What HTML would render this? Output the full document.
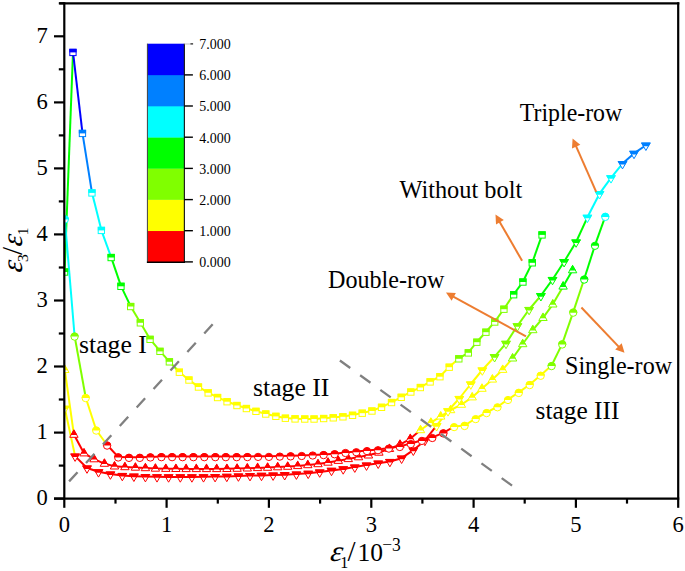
<!DOCTYPE html>
<html><head><meta charset="utf-8"><title>chart</title>
<style>
html,body{margin:0;padding:0;background:#fff;}
svg{display:block;}
text{font-family:"Liberation Serif",serif;fill:#000;}
</style></head><body>
<svg width="685" height="571" viewBox="0 0 685 571">
<rect width="685" height="571" fill="#fff"/>
<defs><clipPath id="pc"><rect x="64.3" y="3.3" width="613.9000000000001" height="495.3"/></clipPath></defs>
<!-- data lines -->
<g clip-path="url(#pc)">
<g stroke-width="2.0" stroke-linecap="butt" fill="none">
<line x1="64.6" y1="271.8" x2="73.0" y2="52.2" stroke="#00ff00"/>
<line x1="73.0" y1="52.2" x2="82.5" y2="133.3" stroke="#0000ff"/>
<line x1="82.5" y1="133.3" x2="92.0" y2="192.8" stroke="#0080ff"/>
<line x1="92.0" y1="192.8" x2="101.4" y2="230.3" stroke="#00ffff"/>
<line x1="101.4" y1="230.3" x2="111.2" y2="257.4" stroke="#00ffff"/>
<line x1="111.2" y1="257.4" x2="121.0" y2="286.1" stroke="#00ff00"/>
<line x1="121.0" y1="286.1" x2="130.7" y2="306.4" stroke="#00ff00"/>
<line x1="130.7" y1="306.4" x2="140.3" y2="322.6" stroke="#80ff00"/>
<line x1="140.3" y1="322.6" x2="150.1" y2="339.2" stroke="#80ff00"/>
<line x1="150.1" y1="339.2" x2="160.0" y2="351.2" stroke="#80ff00"/>
<line x1="160.0" y1="351.2" x2="169.4" y2="361.6" stroke="#80ff00"/>
<line x1="169.4" y1="361.6" x2="179.3" y2="372.0" stroke="#80ff00"/>
<line x1="179.3" y1="372.0" x2="188.9" y2="379.9" stroke="#ffff00"/>
<line x1="188.9" y1="379.9" x2="198.5" y2="386.9" stroke="#ffff00"/>
<line x1="198.5" y1="386.9" x2="208.2" y2="392.7" stroke="#ffff00"/>
<line x1="208.2" y1="392.7" x2="217.6" y2="397.4" stroke="#ffff00"/>
<line x1="217.6" y1="397.4" x2="227.1" y2="401.5" stroke="#ffff00"/>
<line x1="227.1" y1="401.5" x2="236.9" y2="405.3" stroke="#ffff00"/>
<line x1="236.9" y1="405.3" x2="246.4" y2="408.3" stroke="#ffff00"/>
<line x1="246.4" y1="408.3" x2="256.0" y2="411.2" stroke="#ffff00"/>
<line x1="256.0" y1="411.2" x2="265.7" y2="413.8" stroke="#ffff00"/>
<line x1="265.7" y1="413.8" x2="275.8" y2="416.2" stroke="#ffff00"/>
<line x1="275.8" y1="416.2" x2="285.4" y2="418.0" stroke="#ffff00"/>
<line x1="285.4" y1="418.0" x2="295.0" y2="418.7" stroke="#ffff00"/>
<line x1="295.0" y1="418.7" x2="304.7" y2="418.9" stroke="#ffff00"/>
<line x1="304.7" y1="418.9" x2="314.0" y2="418.9" stroke="#ffff00"/>
<line x1="314.0" y1="418.9" x2="323.6" y2="418.3" stroke="#ffff00"/>
<line x1="323.6" y1="418.3" x2="333.2" y2="417.6" stroke="#ffff00"/>
<line x1="333.2" y1="417.6" x2="342.9" y2="416.6" stroke="#ffff00"/>
<line x1="342.9" y1="416.6" x2="352.5" y2="415.1" stroke="#ffff00"/>
<line x1="352.5" y1="415.1" x2="362.2" y2="413.0" stroke="#ffff00"/>
<line x1="362.2" y1="413.0" x2="371.9" y2="410.8" stroke="#ffff00"/>
<line x1="371.9" y1="410.8" x2="381.5" y2="407.1" stroke="#ffff00"/>
<line x1="381.5" y1="407.1" x2="391.5" y2="402.3" stroke="#ffff00"/>
<line x1="391.5" y1="402.3" x2="401.2" y2="397.1" stroke="#ffff00"/>
<line x1="401.2" y1="397.1" x2="410.8" y2="391.8" stroke="#ffff00"/>
<line x1="410.8" y1="391.8" x2="420.4" y2="387.3" stroke="#ffff00"/>
<line x1="420.4" y1="387.3" x2="430.1" y2="381.7" stroke="#ffff00"/>
<line x1="430.1" y1="381.7" x2="439.9" y2="376.5" stroke="#ffff00"/>
<line x1="439.9" y1="376.5" x2="449.2" y2="367.0" stroke="#ffff00"/>
<line x1="449.2" y1="367.0" x2="458.8" y2="358.6" stroke="#ffff00"/>
<line x1="458.8" y1="358.6" x2="468.3" y2="352.7" stroke="#80ff00"/>
<line x1="468.3" y1="352.7" x2="476.8" y2="342.0" stroke="#80ff00"/>
<line x1="476.8" y1="342.0" x2="485.9" y2="332.0" stroke="#80ff00"/>
<line x1="485.9" y1="332.0" x2="494.7" y2="321.9" stroke="#80ff00"/>
<line x1="494.7" y1="321.9" x2="503.9" y2="309.0" stroke="#80ff00"/>
<line x1="503.9" y1="309.0" x2="513.6" y2="294.5" stroke="#80ff00"/>
<line x1="513.6" y1="294.5" x2="522.9" y2="281.8" stroke="#00ff00"/>
<line x1="522.9" y1="281.8" x2="532.3" y2="262.6" stroke="#00ff00"/>
<line x1="532.3" y1="262.6" x2="542.0" y2="234.8" stroke="#00ff00"/>
<line x1="64.8" y1="218.9" x2="74.6" y2="336.0" stroke="#00ffff"/>
<line x1="74.6" y1="336.0" x2="85.7" y2="397.5" stroke="#80ff00"/>
<line x1="85.7" y1="397.5" x2="96.2" y2="430.0" stroke="#ffff00"/>
<line x1="96.2" y1="430.0" x2="107.1" y2="445.0" stroke="#ffff00"/>
<line x1="107.1" y1="445.0" x2="118.2" y2="456.9" stroke="#ff0000"/>
<line x1="118.2" y1="456.9" x2="129.0" y2="457.3" stroke="#ff0000"/>
<line x1="129.0" y1="457.3" x2="139.8" y2="457.3" stroke="#ff0000"/>
<line x1="139.8" y1="457.3" x2="150.4" y2="456.9" stroke="#ff0000"/>
<line x1="150.4" y1="456.9" x2="161.4" y2="456.6" stroke="#ff0000"/>
<line x1="161.4" y1="456.6" x2="172.1" y2="456.6" stroke="#ff0000"/>
<line x1="172.1" y1="456.6" x2="182.6" y2="456.6" stroke="#ff0000"/>
<line x1="182.6" y1="456.6" x2="193.4" y2="456.6" stroke="#ff0000"/>
<line x1="193.4" y1="456.6" x2="204.3" y2="456.6" stroke="#ff0000"/>
<line x1="204.3" y1="456.6" x2="215.3" y2="456.6" stroke="#ff0000"/>
<line x1="215.3" y1="456.6" x2="225.8" y2="456.6" stroke="#ff0000"/>
<line x1="225.8" y1="456.6" x2="236.7" y2="456.6" stroke="#ff0000"/>
<line x1="236.7" y1="456.6" x2="247.4" y2="456.5" stroke="#ff0000"/>
<line x1="247.4" y1="456.5" x2="258.1" y2="456.3" stroke="#ff0000"/>
<line x1="258.1" y1="456.3" x2="268.9" y2="456.3" stroke="#ff0000"/>
<line x1="268.9" y1="456.3" x2="279.8" y2="456.0" stroke="#ff0000"/>
<line x1="279.8" y1="456.0" x2="290.6" y2="455.8" stroke="#ff0000"/>
<line x1="290.6" y1="455.8" x2="301.7" y2="455.4" stroke="#ff0000"/>
<line x1="301.7" y1="455.4" x2="312.7" y2="454.9" stroke="#ff0000"/>
<line x1="312.7" y1="454.9" x2="323.6" y2="454.5" stroke="#ff0000"/>
<line x1="323.6" y1="454.5" x2="334.6" y2="453.7" stroke="#ff0000"/>
<line x1="334.6" y1="453.7" x2="345.5" y2="452.4" stroke="#ff0000"/>
<line x1="345.5" y1="452.4" x2="356.3" y2="451.6" stroke="#ff0000"/>
<line x1="356.3" y1="451.6" x2="367.0" y2="450.5" stroke="#ff0000"/>
<line x1="367.0" y1="450.5" x2="378.0" y2="449.6" stroke="#ff0000"/>
<line x1="378.0" y1="449.6" x2="388.9" y2="448.0" stroke="#ff0000"/>
<line x1="388.9" y1="448.0" x2="399.8" y2="446.4" stroke="#ff0000"/>
<line x1="399.8" y1="446.4" x2="410.8" y2="443.5" stroke="#ff0000"/>
<line x1="410.8" y1="443.5" x2="421.9" y2="440.3" stroke="#ff0000"/>
<line x1="421.9" y1="440.3" x2="432.3" y2="437.4" stroke="#ff0000"/>
<line x1="432.3" y1="437.4" x2="443.4" y2="432.9" stroke="#ff0000"/>
<line x1="443.4" y1="432.9" x2="454.1" y2="426.5" stroke="#ff0000"/>
<line x1="454.1" y1="426.5" x2="464.6" y2="425.4" stroke="#ffff00"/>
<line x1="464.6" y1="425.4" x2="475.7" y2="418.5" stroke="#ffff00"/>
<line x1="475.7" y1="418.5" x2="486.6" y2="412.5" stroke="#ffff00"/>
<line x1="486.6" y1="412.5" x2="497.5" y2="406.7" stroke="#ffff00"/>
<line x1="497.5" y1="406.7" x2="508.0" y2="399.4" stroke="#ffff00"/>
<line x1="508.0" y1="399.4" x2="518.8" y2="392.4" stroke="#ffff00"/>
<line x1="518.8" y1="392.4" x2="529.7" y2="384.5" stroke="#ffff00"/>
<line x1="529.7" y1="384.5" x2="540.7" y2="375.2" stroke="#ffff00"/>
<line x1="540.7" y1="375.2" x2="551.6" y2="365.5" stroke="#ffff00"/>
<line x1="551.6" y1="365.5" x2="562.2" y2="343.9" stroke="#80ff00"/>
<line x1="562.2" y1="343.9" x2="573.2" y2="312.1" stroke="#80ff00"/>
<line x1="573.2" y1="312.1" x2="584.2" y2="279.0" stroke="#80ff00"/>
<line x1="584.2" y1="279.0" x2="595.0" y2="245.2" stroke="#00ff00"/>
<line x1="595.0" y1="245.2" x2="605.3" y2="216.3" stroke="#00ff00"/>
<line x1="64.8" y1="369.8" x2="73.9" y2="434.6" stroke="#ffff00"/>
<line x1="73.9" y1="434.6" x2="84.0" y2="453.2" stroke="#ff0000"/>
<line x1="84.0" y1="453.2" x2="94.0" y2="459.1" stroke="#ff0000"/>
<line x1="94.0" y1="459.1" x2="104.4" y2="463.6" stroke="#ff0000"/>
<line x1="104.4" y1="463.6" x2="114.5" y2="466.3" stroke="#ff0000"/>
<line x1="114.5" y1="466.3" x2="124.9" y2="467.0" stroke="#ff0000"/>
<line x1="124.9" y1="467.0" x2="135.4" y2="467.5" stroke="#ff0000"/>
<line x1="135.4" y1="467.5" x2="145.4" y2="468.0" stroke="#ff0000"/>
<line x1="145.4" y1="468.0" x2="155.4" y2="468.5" stroke="#ff0000"/>
<line x1="155.4" y1="468.5" x2="165.8" y2="468.7" stroke="#ff0000"/>
<line x1="165.8" y1="468.7" x2="175.9" y2="468.8" stroke="#ff0000"/>
<line x1="175.9" y1="468.8" x2="186.1" y2="468.9" stroke="#ff0000"/>
<line x1="186.1" y1="468.9" x2="196.3" y2="468.9" stroke="#ff0000"/>
<line x1="196.3" y1="468.9" x2="206.5" y2="468.9" stroke="#ff0000"/>
<line x1="206.5" y1="468.9" x2="216.7" y2="468.9" stroke="#ff0000"/>
<line x1="216.7" y1="468.9" x2="226.9" y2="468.8" stroke="#ff0000"/>
<line x1="226.9" y1="468.8" x2="237.1" y2="468.6" stroke="#ff0000"/>
<line x1="237.1" y1="468.6" x2="247.3" y2="468.3" stroke="#ff0000"/>
<line x1="247.3" y1="468.3" x2="257.6" y2="467.9" stroke="#ff0000"/>
<line x1="257.6" y1="467.9" x2="267.6" y2="467.6" stroke="#ff0000"/>
<line x1="267.6" y1="467.6" x2="277.7" y2="467.1" stroke="#ff0000"/>
<line x1="277.7" y1="467.1" x2="287.7" y2="466.6" stroke="#ff0000"/>
<line x1="287.7" y1="466.6" x2="297.7" y2="465.9" stroke="#ff0000"/>
<line x1="297.7" y1="465.9" x2="307.8" y2="465.0" stroke="#ff0000"/>
<line x1="307.8" y1="465.0" x2="318.0" y2="464.0" stroke="#ff0000"/>
<line x1="318.0" y1="464.0" x2="328.0" y2="462.5" stroke="#ff0000"/>
<line x1="328.0" y1="462.5" x2="338.3" y2="460.7" stroke="#ff0000"/>
<line x1="338.3" y1="460.7" x2="348.3" y2="458.9" stroke="#ff0000"/>
<line x1="348.3" y1="458.9" x2="358.5" y2="457.1" stroke="#ff0000"/>
<line x1="358.5" y1="457.1" x2="368.5" y2="455.3" stroke="#ff0000"/>
<line x1="368.5" y1="455.3" x2="378.9" y2="452.5" stroke="#ff0000"/>
<line x1="378.9" y1="452.5" x2="389.5" y2="448.8" stroke="#ff0000"/>
<line x1="389.5" y1="448.8" x2="400.0" y2="444.6" stroke="#ff0000"/>
<line x1="400.0" y1="444.6" x2="410.3" y2="438.8" stroke="#ff0000"/>
<line x1="410.3" y1="438.8" x2="420.5" y2="430.0" stroke="#ff0000"/>
<line x1="420.5" y1="430.0" x2="430.9" y2="422.6" stroke="#ffff00"/>
<line x1="430.9" y1="422.6" x2="440.7" y2="416.4" stroke="#ffff00"/>
<line x1="440.7" y1="416.4" x2="450.6" y2="410.0" stroke="#ffff00"/>
<line x1="450.6" y1="410.0" x2="461.4" y2="404.6" stroke="#ffff00"/>
<line x1="461.4" y1="404.6" x2="472.2" y2="397.2" stroke="#ffff00"/>
<line x1="472.2" y1="397.2" x2="482.0" y2="388.6" stroke="#ffff00"/>
<line x1="482.0" y1="388.6" x2="492.4" y2="379.4" stroke="#ffff00"/>
<line x1="492.4" y1="379.4" x2="502.7" y2="369.7" stroke="#ffff00"/>
<line x1="502.7" y1="369.7" x2="512.6" y2="358.3" stroke="#ffff00"/>
<line x1="512.6" y1="358.3" x2="522.7" y2="344.0" stroke="#80ff00"/>
<line x1="522.7" y1="344.0" x2="532.8" y2="330.0" stroke="#80ff00"/>
<line x1="532.8" y1="330.0" x2="543.0" y2="317.8" stroke="#80ff00"/>
<line x1="543.0" y1="317.8" x2="552.8" y2="304.3" stroke="#80ff00"/>
<line x1="552.8" y1="304.3" x2="563.1" y2="286.4" stroke="#80ff00"/>
<line x1="563.1" y1="286.4" x2="572.6" y2="270.1" stroke="#00ff00"/>
<line x1="64.8" y1="408.3" x2="75.1" y2="456.1" stroke="#ffff00"/>
<line x1="75.1" y1="456.1" x2="87.0" y2="468.0" stroke="#ff0000"/>
<line x1="87.0" y1="468.0" x2="98.5" y2="471.8" stroke="#ff0000"/>
<line x1="98.5" y1="471.8" x2="110.4" y2="474.0" stroke="#ff0000"/>
<line x1="110.4" y1="474.0" x2="122.3" y2="475.5" stroke="#ff0000"/>
<line x1="122.3" y1="475.5" x2="133.9" y2="476.2" stroke="#ff0000"/>
<line x1="133.9" y1="476.2" x2="145.4" y2="476.6" stroke="#ff0000"/>
<line x1="145.4" y1="476.6" x2="157.0" y2="476.8" stroke="#ff0000"/>
<line x1="157.0" y1="476.8" x2="168.6" y2="476.9" stroke="#ff0000"/>
<line x1="168.6" y1="476.9" x2="180.3" y2="476.9" stroke="#ff0000"/>
<line x1="180.3" y1="476.9" x2="191.9" y2="476.9" stroke="#ff0000"/>
<line x1="191.9" y1="476.9" x2="203.5" y2="476.8" stroke="#ff0000"/>
<line x1="203.5" y1="476.8" x2="215.1" y2="476.6" stroke="#ff0000"/>
<line x1="215.1" y1="476.6" x2="226.8" y2="476.4" stroke="#ff0000"/>
<line x1="226.8" y1="476.4" x2="238.4" y2="476.0" stroke="#ff0000"/>
<line x1="238.4" y1="476.0" x2="250.0" y2="475.6" stroke="#ff0000"/>
<line x1="250.0" y1="475.6" x2="261.5" y2="475.4" stroke="#ff0000"/>
<line x1="261.5" y1="475.4" x2="273.1" y2="475.1" stroke="#ff0000"/>
<line x1="273.1" y1="475.1" x2="284.7" y2="474.7" stroke="#ff0000"/>
<line x1="284.7" y1="474.7" x2="296.4" y2="474.1" stroke="#ff0000"/>
<line x1="296.4" y1="474.1" x2="308.2" y2="473.3" stroke="#ff0000"/>
<line x1="308.2" y1="473.3" x2="319.7" y2="472.0" stroke="#ff0000"/>
<line x1="319.7" y1="472.0" x2="331.5" y2="470.4" stroke="#ff0000"/>
<line x1="331.5" y1="470.4" x2="343.2" y2="468.9" stroke="#ff0000"/>
<line x1="343.2" y1="468.9" x2="354.8" y2="467.1" stroke="#ff0000"/>
<line x1="354.8" y1="467.1" x2="366.5" y2="465.1" stroke="#ff0000"/>
<line x1="366.5" y1="465.1" x2="378.2" y2="463.2" stroke="#ff0000"/>
<line x1="378.2" y1="463.2" x2="389.9" y2="461.5" stroke="#ff0000"/>
<line x1="389.9" y1="461.5" x2="401.6" y2="458.2" stroke="#ff0000"/>
<line x1="401.6" y1="458.2" x2="413.3" y2="450.2" stroke="#ff0000"/>
<line x1="413.3" y1="450.2" x2="424.9" y2="440.4" stroke="#ff0000"/>
<line x1="424.9" y1="440.4" x2="436.6" y2="425.7" stroke="#ff0000"/>
<line x1="436.6" y1="425.7" x2="448.0" y2="410.8" stroke="#ffff00"/>
<line x1="448.0" y1="410.8" x2="459.3" y2="398.5" stroke="#ffff00"/>
<line x1="459.3" y1="398.5" x2="470.8" y2="384.0" stroke="#ffff00"/>
<line x1="470.8" y1="384.0" x2="482.3" y2="370.0" stroke="#ffff00"/>
<line x1="482.3" y1="370.0" x2="494.6" y2="356.7" stroke="#ffff00"/>
<line x1="494.6" y1="356.7" x2="506.0" y2="343.4" stroke="#80ff00"/>
<line x1="506.0" y1="343.4" x2="517.4" y2="325.8" stroke="#80ff00"/>
<line x1="517.4" y1="325.8" x2="529.1" y2="309.5" stroke="#80ff00"/>
<line x1="529.1" y1="309.5" x2="540.9" y2="295.7" stroke="#80ff00"/>
<line x1="540.9" y1="295.7" x2="552.5" y2="279.5" stroke="#00ff00"/>
<line x1="552.5" y1="279.5" x2="564.1" y2="261.7" stroke="#00ff00"/>
<line x1="564.1" y1="261.7" x2="576.1" y2="242.0" stroke="#00ff00"/>
<line x1="576.1" y1="242.0" x2="587.4" y2="217.3" stroke="#00ff00"/>
<line x1="587.4" y1="217.3" x2="599.5" y2="193.7" stroke="#00ffff"/>
<line x1="599.5" y1="193.7" x2="611.0" y2="177.8" stroke="#00ffff"/>
<line x1="611.0" y1="177.8" x2="622.5" y2="163.6" stroke="#00ffff"/>
<line x1="622.5" y1="163.6" x2="634.0" y2="153.4" stroke="#0080ff"/>
<line x1="634.0" y1="153.4" x2="645.9" y2="145.2" stroke="#0080ff"/>
</g>
<g>
<rect x="61.4" y="268.9" width="6.3" height="6.3" fill="#fff" stroke="#00ff00" stroke-width="1"/><rect x="60.9" y="268.4" width="7.3" height="3.6" fill="#00ff00"/>
<rect x="69.8" y="49.3" width="6.3" height="6.3" fill="#fff" stroke="#0000ff" stroke-width="1"/><rect x="69.3" y="48.8" width="7.3" height="3.6" fill="#0000ff"/>
<rect x="79.3" y="130.3" width="6.3" height="6.3" fill="#fff" stroke="#0080ff" stroke-width="1"/><rect x="78.8" y="129.8" width="7.3" height="3.6" fill="#0080ff"/>
<rect x="88.8" y="189.8" width="6.3" height="6.3" fill="#fff" stroke="#00ffff" stroke-width="1"/><rect x="88.3" y="189.3" width="7.3" height="3.6" fill="#00ffff"/>
<rect x="98.2" y="227.3" width="6.3" height="6.3" fill="#fff" stroke="#00ffff" stroke-width="1"/><rect x="97.8" y="226.8" width="7.3" height="3.6" fill="#00ffff"/>
<rect x="108.0" y="254.4" width="6.3" height="6.3" fill="#fff" stroke="#00ff00" stroke-width="1"/><rect x="107.5" y="253.9" width="7.3" height="3.6" fill="#00ff00"/>
<rect x="117.8" y="283.2" width="6.3" height="6.3" fill="#fff" stroke="#00ff00" stroke-width="1"/><rect x="117.3" y="282.7" width="7.3" height="3.6" fill="#00ff00"/>
<rect x="127.5" y="303.4" width="6.3" height="6.3" fill="#fff" stroke="#80ff00" stroke-width="1"/><rect x="127.0" y="302.9" width="7.3" height="3.6" fill="#80ff00"/>
<rect x="137.2" y="319.7" width="6.3" height="6.3" fill="#fff" stroke="#80ff00" stroke-width="1"/><rect x="136.7" y="319.2" width="7.3" height="3.6" fill="#80ff00"/>
<rect x="146.9" y="336.2" width="6.3" height="6.3" fill="#fff" stroke="#80ff00" stroke-width="1"/><rect x="146.4" y="335.8" width="7.3" height="3.6" fill="#80ff00"/>
<rect x="156.8" y="348.2" width="6.3" height="6.3" fill="#fff" stroke="#80ff00" stroke-width="1"/><rect x="156.3" y="347.8" width="7.3" height="3.6" fill="#80ff00"/>
<rect x="166.2" y="358.7" width="6.3" height="6.3" fill="#fff" stroke="#80ff00" stroke-width="1"/><rect x="165.8" y="358.2" width="7.3" height="3.6" fill="#80ff00"/>
<rect x="176.2" y="369.1" width="6.3" height="6.3" fill="#fff" stroke="#ffff00" stroke-width="1"/><rect x="175.7" y="368.6" width="7.3" height="3.6" fill="#ffff00"/>
<rect x="185.8" y="376.9" width="6.3" height="6.3" fill="#fff" stroke="#ffff00" stroke-width="1"/><rect x="185.2" y="376.4" width="7.3" height="3.6" fill="#ffff00"/>
<rect x="195.3" y="383.9" width="6.3" height="6.3" fill="#fff" stroke="#ffff00" stroke-width="1"/><rect x="194.8" y="383.4" width="7.3" height="3.6" fill="#ffff00"/>
<rect x="205.0" y="389.8" width="6.3" height="6.3" fill="#fff" stroke="#ffff00" stroke-width="1"/><rect x="204.5" y="389.2" width="7.3" height="3.6" fill="#ffff00"/>
<rect x="214.4" y="394.4" width="6.3" height="6.3" fill="#fff" stroke="#ffff00" stroke-width="1"/><rect x="213.9" y="393.9" width="7.3" height="3.6" fill="#ffff00"/>
<rect x="223.9" y="398.6" width="6.3" height="6.3" fill="#fff" stroke="#ffff00" stroke-width="1"/><rect x="223.4" y="398.1" width="7.3" height="3.6" fill="#ffff00"/>
<rect x="233.8" y="402.4" width="6.3" height="6.3" fill="#fff" stroke="#ffff00" stroke-width="1"/><rect x="233.2" y="401.9" width="7.3" height="3.6" fill="#ffff00"/>
<rect x="243.2" y="405.4" width="6.3" height="6.3" fill="#fff" stroke="#ffff00" stroke-width="1"/><rect x="242.8" y="404.9" width="7.3" height="3.6" fill="#ffff00"/>
<rect x="252.8" y="408.2" width="6.3" height="6.3" fill="#fff" stroke="#ffff00" stroke-width="1"/><rect x="252.3" y="407.8" width="7.3" height="3.6" fill="#ffff00"/>
<rect x="262.6" y="410.9" width="6.3" height="6.3" fill="#fff" stroke="#ffff00" stroke-width="1"/><rect x="262.1" y="410.4" width="7.3" height="3.6" fill="#ffff00"/>
<rect x="272.7" y="413.2" width="6.3" height="6.3" fill="#fff" stroke="#ffff00" stroke-width="1"/><rect x="272.2" y="412.8" width="7.3" height="3.6" fill="#ffff00"/>
<rect x="282.2" y="415.1" width="6.3" height="6.3" fill="#fff" stroke="#ffff00" stroke-width="1"/><rect x="281.8" y="414.6" width="7.3" height="3.6" fill="#ffff00"/>
<rect x="291.9" y="415.8" width="6.3" height="6.3" fill="#fff" stroke="#ffff00" stroke-width="1"/><rect x="291.4" y="415.2" width="7.3" height="3.6" fill="#ffff00"/>
<rect x="301.6" y="415.9" width="6.3" height="6.3" fill="#fff" stroke="#ffff00" stroke-width="1"/><rect x="301.1" y="415.4" width="7.3" height="3.6" fill="#ffff00"/>
<rect x="310.9" y="415.9" width="6.3" height="6.3" fill="#fff" stroke="#ffff00" stroke-width="1"/><rect x="310.4" y="415.4" width="7.3" height="3.6" fill="#ffff00"/>
<rect x="320.5" y="415.4" width="6.3" height="6.3" fill="#fff" stroke="#ffff00" stroke-width="1"/><rect x="320.0" y="414.9" width="7.3" height="3.6" fill="#ffff00"/>
<rect x="330.1" y="414.7" width="6.3" height="6.3" fill="#fff" stroke="#ffff00" stroke-width="1"/><rect x="329.6" y="414.2" width="7.3" height="3.6" fill="#ffff00"/>
<rect x="339.8" y="413.7" width="6.3" height="6.3" fill="#fff" stroke="#ffff00" stroke-width="1"/><rect x="339.2" y="413.2" width="7.3" height="3.6" fill="#ffff00"/>
<rect x="349.4" y="412.2" width="6.3" height="6.3" fill="#fff" stroke="#ffff00" stroke-width="1"/><rect x="348.9" y="411.7" width="7.3" height="3.6" fill="#ffff00"/>
<rect x="359.1" y="410.1" width="6.3" height="6.3" fill="#fff" stroke="#ffff00" stroke-width="1"/><rect x="358.6" y="409.6" width="7.3" height="3.6" fill="#ffff00"/>
<rect x="368.8" y="407.9" width="6.3" height="6.3" fill="#fff" stroke="#ffff00" stroke-width="1"/><rect x="368.2" y="407.4" width="7.3" height="3.6" fill="#ffff00"/>
<rect x="378.4" y="404.2" width="6.3" height="6.3" fill="#fff" stroke="#ffff00" stroke-width="1"/><rect x="377.9" y="403.7" width="7.3" height="3.6" fill="#ffff00"/>
<rect x="388.4" y="399.4" width="6.3" height="6.3" fill="#fff" stroke="#ffff00" stroke-width="1"/><rect x="387.9" y="398.9" width="7.3" height="3.6" fill="#ffff00"/>
<rect x="398.1" y="394.2" width="6.3" height="6.3" fill="#fff" stroke="#ffff00" stroke-width="1"/><rect x="397.6" y="393.7" width="7.3" height="3.6" fill="#ffff00"/>
<rect x="407.7" y="388.9" width="6.3" height="6.3" fill="#fff" stroke="#ffff00" stroke-width="1"/><rect x="407.2" y="388.4" width="7.3" height="3.6" fill="#ffff00"/>
<rect x="417.2" y="384.4" width="6.3" height="6.3" fill="#fff" stroke="#ffff00" stroke-width="1"/><rect x="416.8" y="383.9" width="7.3" height="3.6" fill="#ffff00"/>
<rect x="427.0" y="378.8" width="6.3" height="6.3" fill="#fff" stroke="#ffff00" stroke-width="1"/><rect x="426.5" y="378.2" width="7.3" height="3.6" fill="#ffff00"/>
<rect x="436.8" y="373.6" width="6.3" height="6.3" fill="#fff" stroke="#ffff00" stroke-width="1"/><rect x="436.2" y="373.1" width="7.3" height="3.6" fill="#ffff00"/>
<rect x="446.1" y="364.1" width="6.3" height="6.3" fill="#fff" stroke="#ffff00" stroke-width="1"/><rect x="445.6" y="363.6" width="7.3" height="3.6" fill="#ffff00"/>
<rect x="455.7" y="355.7" width="6.3" height="6.3" fill="#fff" stroke="#80ff00" stroke-width="1"/><rect x="455.2" y="355.2" width="7.3" height="3.6" fill="#80ff00"/>
<rect x="465.2" y="349.8" width="6.3" height="6.3" fill="#fff" stroke="#80ff00" stroke-width="1"/><rect x="464.7" y="349.2" width="7.3" height="3.6" fill="#80ff00"/>
<rect x="473.7" y="339.1" width="6.3" height="6.3" fill="#fff" stroke="#80ff00" stroke-width="1"/><rect x="473.2" y="338.6" width="7.3" height="3.6" fill="#80ff00"/>
<rect x="482.8" y="329.1" width="6.3" height="6.3" fill="#fff" stroke="#80ff00" stroke-width="1"/><rect x="482.2" y="328.6" width="7.3" height="3.6" fill="#80ff00"/>
<rect x="491.6" y="318.9" width="6.3" height="6.3" fill="#fff" stroke="#80ff00" stroke-width="1"/><rect x="491.1" y="318.4" width="7.3" height="3.6" fill="#80ff00"/>
<rect x="500.8" y="306.1" width="6.3" height="6.3" fill="#fff" stroke="#80ff00" stroke-width="1"/><rect x="500.2" y="305.6" width="7.3" height="3.6" fill="#80ff00"/>
<rect x="510.5" y="291.6" width="6.3" height="6.3" fill="#fff" stroke="#00ff00" stroke-width="1"/><rect x="510.0" y="291.1" width="7.3" height="3.6" fill="#00ff00"/>
<rect x="519.8" y="278.9" width="6.3" height="6.3" fill="#fff" stroke="#00ff00" stroke-width="1"/><rect x="519.2" y="278.4" width="7.3" height="3.6" fill="#00ff00"/>
<rect x="529.1" y="259.7" width="6.3" height="6.3" fill="#fff" stroke="#00ff00" stroke-width="1"/><rect x="528.6" y="259.2" width="7.3" height="3.6" fill="#00ff00"/>
<rect x="538.9" y="231.8" width="6.3" height="6.3" fill="#fff" stroke="#00ff00" stroke-width="1"/><rect x="538.4" y="231.3" width="7.3" height="3.6" fill="#00ff00"/>
<path d="M64.8 365.1 L69.0 372.5 L60.6 372.5 Z" fill="#fff" stroke="#ffff00" stroke-width="1" stroke-linejoin="miter"/><path d="M64.8 364.5 L68.2 370.3 L61.4 370.3 Z" fill="#ffff00"/>
<path d="M73.9 429.9 L78.1 437.3 L69.7 437.3 Z" fill="#fff" stroke="#ff0000" stroke-width="1" stroke-linejoin="miter"/><path d="M73.9 429.3 L77.3 435.1 L70.5 435.1 Z" fill="#ff0000"/>
<path d="M84.0 448.5 L88.2 455.9 L79.8 455.9 Z" fill="#fff" stroke="#ff0000" stroke-width="1" stroke-linejoin="miter"/><path d="M84.0 447.9 L87.4 453.7 L80.6 453.7 Z" fill="#ff0000"/>
<path d="M94.0 454.4 L98.2 461.8 L89.8 461.8 Z" fill="#fff" stroke="#ff0000" stroke-width="1" stroke-linejoin="miter"/><path d="M94.0 453.8 L97.4 459.6 L90.6 459.6 Z" fill="#ff0000"/>
<path d="M104.4 458.9 L108.6 466.3 L100.2 466.3 Z" fill="#fff" stroke="#ff0000" stroke-width="1" stroke-linejoin="miter"/><path d="M104.4 458.3 L107.8 464.1 L101.0 464.1 Z" fill="#ff0000"/>
<path d="M114.5 461.6 L118.7 469.0 L110.3 469.0 Z" fill="#fff" stroke="#ff0000" stroke-width="1" stroke-linejoin="miter"/><path d="M114.5 461.0 L117.9 466.8 L111.1 466.8 Z" fill="#ff0000"/>
<path d="M124.9 462.3 L129.1 469.7 L120.7 469.7 Z" fill="#fff" stroke="#ff0000" stroke-width="1" stroke-linejoin="miter"/><path d="M124.9 461.7 L128.3 467.5 L121.5 467.5 Z" fill="#ff0000"/>
<path d="M135.4 462.8 L139.6 470.2 L131.2 470.2 Z" fill="#fff" stroke="#ff0000" stroke-width="1" stroke-linejoin="miter"/><path d="M135.4 462.2 L138.8 468.0 L132.0 468.0 Z" fill="#ff0000"/>
<path d="M145.4 463.3 L149.6 470.7 L141.2 470.7 Z" fill="#fff" stroke="#ff0000" stroke-width="1" stroke-linejoin="miter"/><path d="M145.4 462.7 L148.8 468.5 L142.0 468.5 Z" fill="#ff0000"/>
<path d="M155.4 463.8 L159.6 471.2 L151.2 471.2 Z" fill="#fff" stroke="#ff0000" stroke-width="1" stroke-linejoin="miter"/><path d="M155.4 463.2 L158.8 469.0 L152.0 469.0 Z" fill="#ff0000"/>
<path d="M165.8 464.0 L170.0 471.4 L161.6 471.4 Z" fill="#fff" stroke="#ff0000" stroke-width="1" stroke-linejoin="miter"/><path d="M165.8 463.4 L169.2 469.2 L162.4 469.2 Z" fill="#ff0000"/>
<path d="M175.9 464.1 L180.1 471.5 L171.7 471.5 Z" fill="#fff" stroke="#ff0000" stroke-width="1" stroke-linejoin="miter"/><path d="M175.9 463.5 L179.3 469.3 L172.5 469.3 Z" fill="#ff0000"/>
<path d="M186.1 464.2 L190.3 471.6 L181.9 471.6 Z" fill="#fff" stroke="#ff0000" stroke-width="1" stroke-linejoin="miter"/><path d="M186.1 463.6 L189.5 469.4 L182.7 469.4 Z" fill="#ff0000"/>
<path d="M196.3 464.2 L200.5 471.6 L192.1 471.6 Z" fill="#fff" stroke="#ff0000" stroke-width="1" stroke-linejoin="miter"/><path d="M196.3 463.6 L199.7 469.4 L192.9 469.4 Z" fill="#ff0000"/>
<path d="M206.5 464.2 L210.7 471.6 L202.3 471.6 Z" fill="#fff" stroke="#ff0000" stroke-width="1" stroke-linejoin="miter"/><path d="M206.5 463.6 L209.9 469.4 L203.1 469.4 Z" fill="#ff0000"/>
<path d="M216.7 464.2 L220.9 471.6 L212.5 471.6 Z" fill="#fff" stroke="#ff0000" stroke-width="1" stroke-linejoin="miter"/><path d="M216.7 463.6 L220.1 469.4 L213.3 469.4 Z" fill="#ff0000"/>
<path d="M226.9 464.1 L231.1 471.5 L222.7 471.5 Z" fill="#fff" stroke="#ff0000" stroke-width="1" stroke-linejoin="miter"/><path d="M226.9 463.5 L230.3 469.3 L223.5 469.3 Z" fill="#ff0000"/>
<path d="M237.1 463.9 L241.3 471.3 L232.9 471.3 Z" fill="#fff" stroke="#ff0000" stroke-width="1" stroke-linejoin="miter"/><path d="M237.1 463.3 L240.5 469.1 L233.7 469.1 Z" fill="#ff0000"/>
<path d="M247.3 463.6 L251.5 471.0 L243.1 471.0 Z" fill="#fff" stroke="#ff0000" stroke-width="1" stroke-linejoin="miter"/><path d="M247.3 463.0 L250.7 468.8 L243.9 468.8 Z" fill="#ff0000"/>
<path d="M257.6 463.2 L261.8 470.6 L253.4 470.6 Z" fill="#fff" stroke="#ff0000" stroke-width="1" stroke-linejoin="miter"/><path d="M257.6 462.6 L261.0 468.4 L254.2 468.4 Z" fill="#ff0000"/>
<path d="M267.6 462.9 L271.8 470.3 L263.4 470.3 Z" fill="#fff" stroke="#ff0000" stroke-width="1" stroke-linejoin="miter"/><path d="M267.6 462.3 L271.0 468.1 L264.2 468.1 Z" fill="#ff0000"/>
<path d="M277.7 462.4 L281.9 469.8 L273.5 469.8 Z" fill="#fff" stroke="#ff0000" stroke-width="1" stroke-linejoin="miter"/><path d="M277.7 461.8 L281.1 467.6 L274.3 467.6 Z" fill="#ff0000"/>
<path d="M287.7 461.9 L291.9 469.3 L283.5 469.3 Z" fill="#fff" stroke="#ff0000" stroke-width="1" stroke-linejoin="miter"/><path d="M287.7 461.3 L291.1 467.1 L284.3 467.1 Z" fill="#ff0000"/>
<path d="M297.7 461.2 L301.9 468.6 L293.5 468.6 Z" fill="#fff" stroke="#ff0000" stroke-width="1" stroke-linejoin="miter"/><path d="M297.7 460.6 L301.1 466.4 L294.3 466.4 Z" fill="#ff0000"/>
<path d="M307.8 460.3 L312.0 467.7 L303.6 467.7 Z" fill="#fff" stroke="#ff0000" stroke-width="1" stroke-linejoin="miter"/><path d="M307.8 459.7 L311.2 465.5 L304.4 465.5 Z" fill="#ff0000"/>
<path d="M318.0 459.3 L322.2 466.7 L313.8 466.7 Z" fill="#fff" stroke="#ff0000" stroke-width="1" stroke-linejoin="miter"/><path d="M318.0 458.7 L321.4 464.5 L314.6 464.5 Z" fill="#ff0000"/>
<path d="M328.0 457.8 L332.2 465.2 L323.8 465.2 Z" fill="#fff" stroke="#ff0000" stroke-width="1" stroke-linejoin="miter"/><path d="M328.0 457.2 L331.4 463.0 L324.6 463.0 Z" fill="#ff0000"/>
<path d="M338.3 456.0 L342.5 463.4 L334.1 463.4 Z" fill="#fff" stroke="#ff0000" stroke-width="1" stroke-linejoin="miter"/><path d="M338.3 455.4 L341.7 461.2 L334.9 461.2 Z" fill="#ff0000"/>
<path d="M348.3 454.2 L352.5 461.6 L344.1 461.6 Z" fill="#fff" stroke="#ff0000" stroke-width="1" stroke-linejoin="miter"/><path d="M348.3 453.6 L351.7 459.4 L344.9 459.4 Z" fill="#ff0000"/>
<path d="M358.5 452.4 L362.7 459.8 L354.3 459.8 Z" fill="#fff" stroke="#ff0000" stroke-width="1" stroke-linejoin="miter"/><path d="M358.5 451.8 L361.9 457.6 L355.1 457.6 Z" fill="#ff0000"/>
<path d="M368.5 450.6 L372.7 458.0 L364.3 458.0 Z" fill="#fff" stroke="#ff0000" stroke-width="1" stroke-linejoin="miter"/><path d="M368.5 450.0 L371.9 455.8 L365.1 455.8 Z" fill="#ff0000"/>
<path d="M378.9 447.8 L383.1 455.2 L374.7 455.2 Z" fill="#fff" stroke="#ff0000" stroke-width="1" stroke-linejoin="miter"/><path d="M378.9 447.2 L382.3 453.0 L375.5 453.0 Z" fill="#ff0000"/>
<path d="M389.5 444.1 L393.7 451.5 L385.3 451.5 Z" fill="#fff" stroke="#ff0000" stroke-width="1" stroke-linejoin="miter"/><path d="M389.5 443.5 L392.9 449.3 L386.1 449.3 Z" fill="#ff0000"/>
<path d="M400.0 439.9 L404.2 447.3 L395.8 447.3 Z" fill="#fff" stroke="#ff0000" stroke-width="1" stroke-linejoin="miter"/><path d="M400.0 439.3 L403.4 445.1 L396.6 445.1 Z" fill="#ff0000"/>
<path d="M410.3 434.1 L414.5 441.5 L406.1 441.5 Z" fill="#fff" stroke="#ff0000" stroke-width="1" stroke-linejoin="miter"/><path d="M410.3 433.5 L413.7 439.3 L406.9 439.3 Z" fill="#ff0000"/>
<path d="M420.5 425.3 L424.7 432.7 L416.3 432.7 Z" fill="#fff" stroke="#ffff00" stroke-width="1" stroke-linejoin="miter"/><path d="M420.5 424.7 L423.9 430.5 L417.1 430.5 Z" fill="#ffff00"/>
<path d="M430.9 417.9 L435.1 425.3 L426.7 425.3 Z" fill="#fff" stroke="#ffff00" stroke-width="1" stroke-linejoin="miter"/><path d="M430.9 417.3 L434.3 423.1 L427.5 423.1 Z" fill="#ffff00"/>
<path d="M440.7 411.7 L444.9 419.1 L436.5 419.1 Z" fill="#fff" stroke="#ffff00" stroke-width="1" stroke-linejoin="miter"/><path d="M440.7 411.1 L444.1 416.9 L437.3 416.9 Z" fill="#ffff00"/>
<path d="M450.6 405.3 L454.8 412.7 L446.4 412.7 Z" fill="#fff" stroke="#ffff00" stroke-width="1" stroke-linejoin="miter"/><path d="M450.6 404.7 L454.0 410.5 L447.2 410.5 Z" fill="#ffff00"/>
<path d="M461.4 399.9 L465.6 407.3 L457.2 407.3 Z" fill="#fff" stroke="#ffff00" stroke-width="1" stroke-linejoin="miter"/><path d="M461.4 399.3 L464.8 405.1 L458.0 405.1 Z" fill="#ffff00"/>
<path d="M472.2 392.5 L476.4 399.9 L468.0 399.9 Z" fill="#fff" stroke="#ffff00" stroke-width="1" stroke-linejoin="miter"/><path d="M472.2 391.9 L475.6 397.7 L468.8 397.7 Z" fill="#ffff00"/>
<path d="M482.0 383.9 L486.2 391.3 L477.8 391.3 Z" fill="#fff" stroke="#ffff00" stroke-width="1" stroke-linejoin="miter"/><path d="M482.0 383.3 L485.4 389.1 L478.6 389.1 Z" fill="#ffff00"/>
<path d="M492.4 374.7 L496.6 382.1 L488.2 382.1 Z" fill="#fff" stroke="#ffff00" stroke-width="1" stroke-linejoin="miter"/><path d="M492.4 374.1 L495.8 379.9 L489.0 379.9 Z" fill="#ffff00"/>
<path d="M502.7 365.0 L506.9 372.4 L498.5 372.4 Z" fill="#fff" stroke="#ffff00" stroke-width="1" stroke-linejoin="miter"/><path d="M502.7 364.4 L506.1 370.2 L499.3 370.2 Z" fill="#ffff00"/>
<path d="M512.6 353.6 L516.8 361.0 L508.4 361.0 Z" fill="#fff" stroke="#80ff00" stroke-width="1" stroke-linejoin="miter"/><path d="M512.6 353.0 L516.0 358.8 L509.2 358.8 Z" fill="#80ff00"/>
<path d="M522.7 339.3 L526.9 346.7 L518.5 346.7 Z" fill="#fff" stroke="#80ff00" stroke-width="1" stroke-linejoin="miter"/><path d="M522.7 338.7 L526.1 344.5 L519.3 344.5 Z" fill="#80ff00"/>
<path d="M532.8 325.3 L537.0 332.7 L528.6 332.7 Z" fill="#fff" stroke="#80ff00" stroke-width="1" stroke-linejoin="miter"/><path d="M532.8 324.7 L536.2 330.5 L529.4 330.5 Z" fill="#80ff00"/>
<path d="M543.0 313.1 L547.2 320.5 L538.8 320.5 Z" fill="#fff" stroke="#80ff00" stroke-width="1" stroke-linejoin="miter"/><path d="M543.0 312.5 L546.4 318.3 L539.6 318.3 Z" fill="#80ff00"/>
<path d="M552.8 299.6 L557.0 307.0 L548.6 307.0 Z" fill="#fff" stroke="#80ff00" stroke-width="1" stroke-linejoin="miter"/><path d="M552.8 299.0 L556.2 304.8 L549.4 304.8 Z" fill="#80ff00"/>
<path d="M563.1 281.7 L567.3 289.1 L558.9 289.1 Z" fill="#fff" stroke="#00ff00" stroke-width="1" stroke-linejoin="miter"/><path d="M563.1 281.1 L566.5 286.9 L559.7 286.9 Z" fill="#00ff00"/>
<path d="M572.6 265.4 L576.8 272.8 L568.4 272.8 Z" fill="#fff" stroke="#00ff00" stroke-width="1" stroke-linejoin="miter"/><path d="M572.6 264.8 L576.0 270.6 L569.2 270.6 Z" fill="#00ff00"/>
<path d="M60.5 406.2 L69.1 406.2 L64.8 413.6 Z" fill="#fff" stroke="#ffff00" stroke-width="1"/><path d="M59.9 405.7 L69.7 405.7 L67.6 409.3 L62.0 409.3 Z" fill="#ffff00"/>
<path d="M70.8 454.0 L79.4 454.0 L75.1 461.4 Z" fill="#fff" stroke="#ff0000" stroke-width="1"/><path d="M70.2 453.5 L80.0 453.5 L77.9 457.1 L72.3 457.1 Z" fill="#ff0000"/>
<path d="M82.7 465.9 L91.3 465.9 L87.0 473.3 Z" fill="#fff" stroke="#ff0000" stroke-width="1"/><path d="M82.1 465.4 L91.9 465.4 L89.8 469.0 L84.2 469.0 Z" fill="#ff0000"/>
<path d="M94.2 469.7 L102.8 469.7 L98.5 477.1 Z" fill="#fff" stroke="#ff0000" stroke-width="1"/><path d="M93.6 469.2 L103.4 469.2 L101.3 472.8 L95.7 472.8 Z" fill="#ff0000"/>
<path d="M106.1 471.9 L114.7 471.9 L110.4 479.3 Z" fill="#fff" stroke="#ff0000" stroke-width="1"/><path d="M105.5 471.4 L115.3 471.4 L113.2 475.0 L107.6 475.0 Z" fill="#ff0000"/>
<path d="M118.0 473.4 L126.6 473.4 L122.3 480.8 Z" fill="#fff" stroke="#ff0000" stroke-width="1"/><path d="M117.4 472.9 L127.2 472.9 L125.1 476.5 L119.5 476.5 Z" fill="#ff0000"/>
<path d="M129.6 474.1 L138.2 474.1 L133.9 481.5 Z" fill="#fff" stroke="#ff0000" stroke-width="1"/><path d="M129.0 473.6 L138.8 473.6 L136.7 477.2 L131.1 477.2 Z" fill="#ff0000"/>
<path d="M141.1 474.5 L149.7 474.5 L145.4 481.9 Z" fill="#fff" stroke="#ff0000" stroke-width="1"/><path d="M140.5 474.0 L150.3 474.0 L148.2 477.6 L142.6 477.6 Z" fill="#ff0000"/>
<path d="M152.7 474.7 L161.3 474.7 L157.0 482.1 Z" fill="#fff" stroke="#ff0000" stroke-width="1"/><path d="M152.1 474.2 L161.9 474.2 L159.8 477.8 L154.2 477.8 Z" fill="#ff0000"/>
<path d="M164.3 474.8 L172.9 474.8 L168.6 482.2 Z" fill="#fff" stroke="#ff0000" stroke-width="1"/><path d="M163.7 474.3 L173.5 474.3 L171.4 477.9 L165.8 477.9 Z" fill="#ff0000"/>
<path d="M176.0 474.8 L184.6 474.8 L180.3 482.2 Z" fill="#fff" stroke="#ff0000" stroke-width="1"/><path d="M175.4 474.3 L185.2 474.3 L183.1 477.9 L177.5 477.9 Z" fill="#ff0000"/>
<path d="M187.6 474.8 L196.2 474.8 L191.9 482.2 Z" fill="#fff" stroke="#ff0000" stroke-width="1"/><path d="M187.0 474.3 L196.8 474.3 L194.7 477.9 L189.1 477.9 Z" fill="#ff0000"/>
<path d="M199.2 474.7 L207.8 474.7 L203.5 482.1 Z" fill="#fff" stroke="#ff0000" stroke-width="1"/><path d="M198.6 474.2 L208.4 474.2 L206.3 477.8 L200.7 477.8 Z" fill="#ff0000"/>
<path d="M210.8 474.5 L219.4 474.5 L215.1 481.9 Z" fill="#fff" stroke="#ff0000" stroke-width="1"/><path d="M210.2 474.0 L220.0 474.0 L217.9 477.6 L212.3 477.6 Z" fill="#ff0000"/>
<path d="M222.5 474.3 L231.1 474.3 L226.8 481.7 Z" fill="#fff" stroke="#ff0000" stroke-width="1"/><path d="M221.9 473.8 L231.7 473.8 L229.6 477.4 L224.0 477.4 Z" fill="#ff0000"/>
<path d="M234.1 473.9 L242.7 473.9 L238.4 481.3 Z" fill="#fff" stroke="#ff0000" stroke-width="1"/><path d="M233.5 473.4 L243.3 473.4 L241.2 477.0 L235.6 477.0 Z" fill="#ff0000"/>
<path d="M245.7 473.5 L254.3 473.5 L250.0 480.9 Z" fill="#fff" stroke="#ff0000" stroke-width="1"/><path d="M245.1 473.0 L254.9 473.0 L252.8 476.6 L247.2 476.6 Z" fill="#ff0000"/>
<path d="M257.2 473.3 L265.8 473.3 L261.5 480.7 Z" fill="#fff" stroke="#ff0000" stroke-width="1"/><path d="M256.6 472.8 L266.4 472.8 L264.3 476.4 L258.7 476.4 Z" fill="#ff0000"/>
<path d="M268.8 473.0 L277.4 473.0 L273.1 480.4 Z" fill="#fff" stroke="#ff0000" stroke-width="1"/><path d="M268.2 472.5 L278.0 472.5 L275.9 476.1 L270.3 476.1 Z" fill="#ff0000"/>
<path d="M280.4 472.6 L289.0 472.6 L284.7 480.0 Z" fill="#fff" stroke="#ff0000" stroke-width="1"/><path d="M279.8 472.1 L289.6 472.1 L287.5 475.7 L281.9 475.7 Z" fill="#ff0000"/>
<path d="M292.1 472.0 L300.7 472.0 L296.4 479.4 Z" fill="#fff" stroke="#ff0000" stroke-width="1"/><path d="M291.5 471.5 L301.3 471.5 L299.2 475.1 L293.6 475.1 Z" fill="#ff0000"/>
<path d="M303.9 471.2 L312.5 471.2 L308.2 478.6 Z" fill="#fff" stroke="#ff0000" stroke-width="1"/><path d="M303.3 470.7 L313.1 470.7 L311.0 474.3 L305.4 474.3 Z" fill="#ff0000"/>
<path d="M315.4 469.9 L324.0 469.9 L319.7 477.3 Z" fill="#fff" stroke="#ff0000" stroke-width="1"/><path d="M314.8 469.4 L324.6 469.4 L322.5 473.0 L316.9 473.0 Z" fill="#ff0000"/>
<path d="M327.2 468.3 L335.8 468.3 L331.5 475.7 Z" fill="#fff" stroke="#ff0000" stroke-width="1"/><path d="M326.6 467.8 L336.4 467.8 L334.3 471.4 L328.7 471.4 Z" fill="#ff0000"/>
<path d="M338.9 466.8 L347.5 466.8 L343.2 474.2 Z" fill="#fff" stroke="#ff0000" stroke-width="1"/><path d="M338.3 466.3 L348.1 466.3 L346.0 469.9 L340.4 469.9 Z" fill="#ff0000"/>
<path d="M350.5 465.0 L359.1 465.0 L354.8 472.4 Z" fill="#fff" stroke="#ff0000" stroke-width="1"/><path d="M349.9 464.5 L359.7 464.5 L357.6 468.1 L352.0 468.1 Z" fill="#ff0000"/>
<path d="M362.2 463.0 L370.8 463.0 L366.5 470.4 Z" fill="#fff" stroke="#ff0000" stroke-width="1"/><path d="M361.6 462.5 L371.4 462.5 L369.3 466.1 L363.7 466.1 Z" fill="#ff0000"/>
<path d="M373.9 461.1 L382.5 461.1 L378.2 468.5 Z" fill="#fff" stroke="#ff0000" stroke-width="1"/><path d="M373.3 460.6 L383.1 460.6 L381.0 464.2 L375.4 464.2 Z" fill="#ff0000"/>
<path d="M385.6 459.4 L394.2 459.4 L389.9 466.8 Z" fill="#fff" stroke="#ff0000" stroke-width="1"/><path d="M385.0 458.9 L394.8 458.9 L392.7 462.5 L387.1 462.5 Z" fill="#ff0000"/>
<path d="M397.3 456.1 L405.9 456.1 L401.6 463.5 Z" fill="#fff" stroke="#ff0000" stroke-width="1"/><path d="M396.7 455.6 L406.5 455.6 L404.4 459.2 L398.8 459.2 Z" fill="#ff0000"/>
<path d="M409.0 448.1 L417.6 448.1 L413.3 455.5 Z" fill="#fff" stroke="#ff0000" stroke-width="1"/><path d="M408.4 447.6 L418.2 447.6 L416.1 451.2 L410.5 451.2 Z" fill="#ff0000"/>
<path d="M420.6 438.3 L429.2 438.3 L424.9 445.7 Z" fill="#fff" stroke="#ff0000" stroke-width="1"/><path d="M420.0 437.8 L429.8 437.8 L427.7 441.4 L422.1 441.4 Z" fill="#ff0000"/>
<path d="M432.3 423.6 L440.9 423.6 L436.6 431.0 Z" fill="#fff" stroke="#ffff00" stroke-width="1"/><path d="M431.7 423.1 L441.5 423.1 L439.4 426.7 L433.8 426.7 Z" fill="#ffff00"/>
<path d="M443.7 408.7 L452.3 408.7 L448.0 416.1 Z" fill="#fff" stroke="#ffff00" stroke-width="1"/><path d="M443.1 408.2 L452.9 408.2 L450.8 411.8 L445.2 411.8 Z" fill="#ffff00"/>
<path d="M455.0 396.4 L463.6 396.4 L459.3 403.8 Z" fill="#fff" stroke="#ffff00" stroke-width="1"/><path d="M454.4 395.9 L464.2 395.9 L462.1 399.5 L456.5 399.5 Z" fill="#ffff00"/>
<path d="M466.5 381.9 L475.1 381.9 L470.8 389.3 Z" fill="#fff" stroke="#ffff00" stroke-width="1"/><path d="M465.9 381.4 L475.7 381.4 L473.6 385.0 L468.0 385.0 Z" fill="#ffff00"/>
<path d="M478.0 367.9 L486.6 367.9 L482.3 375.3 Z" fill="#fff" stroke="#ffff00" stroke-width="1"/><path d="M477.4 367.4 L487.2 367.4 L485.1 371.0 L479.5 371.0 Z" fill="#ffff00"/>
<path d="M490.3 354.6 L498.9 354.6 L494.6 362.0 Z" fill="#fff" stroke="#80ff00" stroke-width="1"/><path d="M489.7 354.1 L499.5 354.1 L497.4 357.7 L491.8 357.7 Z" fill="#80ff00"/>
<path d="M501.7 341.3 L510.3 341.3 L506.0 348.7 Z" fill="#fff" stroke="#80ff00" stroke-width="1"/><path d="M501.1 340.8 L510.9 340.8 L508.8 344.4 L503.2 344.4 Z" fill="#80ff00"/>
<path d="M513.1 323.7 L521.7 323.7 L517.4 331.1 Z" fill="#fff" stroke="#80ff00" stroke-width="1"/><path d="M512.5 323.2 L522.3 323.2 L520.2 326.8 L514.6 326.8 Z" fill="#80ff00"/>
<path d="M524.8 307.4 L533.4 307.4 L529.1 314.8 Z" fill="#fff" stroke="#80ff00" stroke-width="1"/><path d="M524.2 306.9 L534.0 306.9 L531.9 310.5 L526.3 310.5 Z" fill="#80ff00"/>
<path d="M536.6 293.6 L545.2 293.6 L540.9 301.0 Z" fill="#fff" stroke="#00ff00" stroke-width="1"/><path d="M536.0 293.1 L545.8 293.1 L543.7 296.7 L538.1 296.7 Z" fill="#00ff00"/>
<path d="M548.2 277.4 L556.8 277.4 L552.5 284.8 Z" fill="#fff" stroke="#00ff00" stroke-width="1"/><path d="M547.6 276.9 L557.4 276.9 L555.3 280.5 L549.7 280.5 Z" fill="#00ff00"/>
<path d="M559.8 259.6 L568.4 259.6 L564.1 267.0 Z" fill="#fff" stroke="#00ff00" stroke-width="1"/><path d="M559.2 259.1 L569.0 259.1 L566.9 262.7 L561.3 262.7 Z" fill="#00ff00"/>
<path d="M571.8 239.9 L580.4 239.9 L576.1 247.3 Z" fill="#fff" stroke="#00ff00" stroke-width="1"/><path d="M571.2 239.4 L581.0 239.4 L578.9 243.0 L573.3 243.0 Z" fill="#00ff00"/>
<path d="M583.1 215.2 L591.7 215.2 L587.4 222.6 Z" fill="#fff" stroke="#00ffff" stroke-width="1"/><path d="M582.5 214.7 L592.3 214.7 L590.2 218.3 L584.6 218.3 Z" fill="#00ffff"/>
<path d="M595.2 191.6 L603.8 191.6 L599.5 199.0 Z" fill="#fff" stroke="#00ffff" stroke-width="1"/><path d="M594.6 191.1 L604.4 191.1 L602.3 194.7 L596.7 194.7 Z" fill="#00ffff"/>
<path d="M606.7 175.7 L615.3 175.7 L611.0 183.1 Z" fill="#fff" stroke="#00ffff" stroke-width="1"/><path d="M606.1 175.2 L615.9 175.2 L613.8 178.8 L608.2 178.8 Z" fill="#00ffff"/>
<path d="M618.2 161.5 L626.8 161.5 L622.5 168.9 Z" fill="#fff" stroke="#0080ff" stroke-width="1"/><path d="M617.6 161.0 L627.4 161.0 L625.3 164.6 L619.7 164.6 Z" fill="#0080ff"/>
<path d="M629.7 151.3 L638.3 151.3 L634.0 158.7 Z" fill="#fff" stroke="#0080ff" stroke-width="1"/><path d="M629.1 150.8 L638.9 150.8 L636.8 154.4 L631.2 154.4 Z" fill="#0080ff"/>
<path d="M641.6 143.1 L650.2 143.1 L645.9 150.5 Z" fill="#fff" stroke="#0080ff" stroke-width="1"/><path d="M641.0 142.6 L650.8 142.6 L648.7 146.2 L643.1 146.2 Z" fill="#0080ff"/>
<circle cx="64.8" cy="219.5" r="3.65" fill="#fff" stroke="#00ffff" stroke-width="1"/><path d="M60.6 219.5 A4.15 4.15 0 0 1 69.0 219.5 Z" fill="#00ffff"/>
<circle cx="74.6" cy="336.6" r="3.65" fill="#fff" stroke="#80ff00" stroke-width="1"/><path d="M70.4 336.6 A4.15 4.15 0 0 1 78.8 336.6 Z" fill="#80ff00"/>
<circle cx="85.7" cy="398.1" r="3.65" fill="#fff" stroke="#ffff00" stroke-width="1"/><path d="M81.5 398.1 A4.15 4.15 0 0 1 89.9 398.1 Z" fill="#ffff00"/>
<circle cx="96.2" cy="430.6" r="3.65" fill="#fff" stroke="#ffff00" stroke-width="1"/><path d="M92.0 430.6 A4.15 4.15 0 0 1 100.4 430.6 Z" fill="#ffff00"/>
<circle cx="107.1" cy="445.6" r="3.65" fill="#fff" stroke="#ff0000" stroke-width="1"/><path d="M102.9 445.6 A4.15 4.15 0 0 1 111.2 445.6 Z" fill="#ff0000"/>
<circle cx="118.2" cy="457.5" r="3.65" fill="#fff" stroke="#ff0000" stroke-width="1"/><path d="M114.0 457.5 A4.15 4.15 0 0 1 122.4 457.5 Z" fill="#ff0000"/>
<circle cx="129.0" cy="457.9" r="3.65" fill="#fff" stroke="#ff0000" stroke-width="1"/><path d="M124.8 457.9 A4.15 4.15 0 0 1 133.2 457.9 Z" fill="#ff0000"/>
<circle cx="139.8" cy="457.9" r="3.65" fill="#fff" stroke="#ff0000" stroke-width="1"/><path d="M135.7 457.9 A4.15 4.15 0 0 1 144.0 457.9 Z" fill="#ff0000"/>
<circle cx="150.4" cy="457.5" r="3.65" fill="#fff" stroke="#ff0000" stroke-width="1"/><path d="M146.2 457.5 A4.15 4.15 0 0 1 154.6 457.5 Z" fill="#ff0000"/>
<circle cx="161.4" cy="457.2" r="3.65" fill="#fff" stroke="#ff0000" stroke-width="1"/><path d="M157.2 457.2 A4.15 4.15 0 0 1 165.6 457.2 Z" fill="#ff0000"/>
<circle cx="172.1" cy="457.2" r="3.65" fill="#fff" stroke="#ff0000" stroke-width="1"/><path d="M167.9 457.2 A4.15 4.15 0 0 1 176.2 457.2 Z" fill="#ff0000"/>
<circle cx="182.6" cy="457.2" r="3.65" fill="#fff" stroke="#ff0000" stroke-width="1"/><path d="M178.4 457.2 A4.15 4.15 0 0 1 186.8 457.2 Z" fill="#ff0000"/>
<circle cx="193.4" cy="457.2" r="3.65" fill="#fff" stroke="#ff0000" stroke-width="1"/><path d="M189.2 457.2 A4.15 4.15 0 0 1 197.6 457.2 Z" fill="#ff0000"/>
<circle cx="204.3" cy="457.2" r="3.65" fill="#fff" stroke="#ff0000" stroke-width="1"/><path d="M200.2 457.2 A4.15 4.15 0 0 1 208.5 457.2 Z" fill="#ff0000"/>
<circle cx="215.3" cy="457.2" r="3.65" fill="#fff" stroke="#ff0000" stroke-width="1"/><path d="M211.2 457.2 A4.15 4.15 0 0 1 219.5 457.2 Z" fill="#ff0000"/>
<circle cx="225.8" cy="457.2" r="3.65" fill="#fff" stroke="#ff0000" stroke-width="1"/><path d="M221.7 457.2 A4.15 4.15 0 0 1 230.0 457.2 Z" fill="#ff0000"/>
<circle cx="236.7" cy="457.2" r="3.65" fill="#fff" stroke="#ff0000" stroke-width="1"/><path d="M232.5 457.2 A4.15 4.15 0 0 1 240.8 457.2 Z" fill="#ff0000"/>
<circle cx="247.4" cy="457.1" r="3.65" fill="#fff" stroke="#ff0000" stroke-width="1"/><path d="M243.2 457.1 A4.15 4.15 0 0 1 251.6 457.1 Z" fill="#ff0000"/>
<circle cx="258.1" cy="456.9" r="3.65" fill="#fff" stroke="#ff0000" stroke-width="1"/><path d="M254.0 456.9 A4.15 4.15 0 0 1 262.2 456.9 Z" fill="#ff0000"/>
<circle cx="268.9" cy="456.9" r="3.65" fill="#fff" stroke="#ff0000" stroke-width="1"/><path d="M264.8 456.9 A4.15 4.15 0 0 1 273.0 456.9 Z" fill="#ff0000"/>
<circle cx="279.8" cy="456.6" r="3.65" fill="#fff" stroke="#ff0000" stroke-width="1"/><path d="M275.7 456.6 A4.15 4.15 0 0 1 283.9 456.6 Z" fill="#ff0000"/>
<circle cx="290.6" cy="456.4" r="3.65" fill="#fff" stroke="#ff0000" stroke-width="1"/><path d="M286.5 456.4 A4.15 4.15 0 0 1 294.8 456.4 Z" fill="#ff0000"/>
<circle cx="301.7" cy="456.0" r="3.65" fill="#fff" stroke="#ff0000" stroke-width="1"/><path d="M297.6 456.0 A4.15 4.15 0 0 1 305.8 456.0 Z" fill="#ff0000"/>
<circle cx="312.7" cy="455.5" r="3.65" fill="#fff" stroke="#ff0000" stroke-width="1"/><path d="M308.6 455.5 A4.15 4.15 0 0 1 316.8 455.5 Z" fill="#ff0000"/>
<circle cx="323.6" cy="455.1" r="3.65" fill="#fff" stroke="#ff0000" stroke-width="1"/><path d="M319.5 455.1 A4.15 4.15 0 0 1 327.8 455.1 Z" fill="#ff0000"/>
<circle cx="334.6" cy="454.3" r="3.65" fill="#fff" stroke="#ff0000" stroke-width="1"/><path d="M330.5 454.3 A4.15 4.15 0 0 1 338.8 454.3 Z" fill="#ff0000"/>
<circle cx="345.5" cy="453.0" r="3.65" fill="#fff" stroke="#ff0000" stroke-width="1"/><path d="M341.4 453.0 A4.15 4.15 0 0 1 349.6 453.0 Z" fill="#ff0000"/>
<circle cx="356.3" cy="452.2" r="3.65" fill="#fff" stroke="#ff0000" stroke-width="1"/><path d="M352.2 452.2 A4.15 4.15 0 0 1 360.4 452.2 Z" fill="#ff0000"/>
<circle cx="367.0" cy="451.1" r="3.65" fill="#fff" stroke="#ff0000" stroke-width="1"/><path d="M362.9 451.1 A4.15 4.15 0 0 1 371.1 451.1 Z" fill="#ff0000"/>
<circle cx="378.0" cy="450.2" r="3.65" fill="#fff" stroke="#ff0000" stroke-width="1"/><path d="M373.9 450.2 A4.15 4.15 0 0 1 382.1 450.2 Z" fill="#ff0000"/>
<circle cx="388.9" cy="448.6" r="3.65" fill="#fff" stroke="#ff0000" stroke-width="1"/><path d="M384.8 448.6 A4.15 4.15 0 0 1 393.0 448.6 Z" fill="#ff0000"/>
<circle cx="399.8" cy="447.0" r="3.65" fill="#fff" stroke="#ff0000" stroke-width="1"/><path d="M395.7 447.0 A4.15 4.15 0 0 1 403.9 447.0 Z" fill="#ff0000"/>
<circle cx="410.8" cy="444.1" r="3.65" fill="#fff" stroke="#ff0000" stroke-width="1"/><path d="M406.7 444.1 A4.15 4.15 0 0 1 414.9 444.1 Z" fill="#ff0000"/>
<circle cx="421.9" cy="440.9" r="3.65" fill="#fff" stroke="#ff0000" stroke-width="1"/><path d="M417.8 440.9 A4.15 4.15 0 0 1 426.0 440.9 Z" fill="#ff0000"/>
<circle cx="432.3" cy="438.0" r="3.65" fill="#fff" stroke="#ff0000" stroke-width="1"/><path d="M428.2 438.0 A4.15 4.15 0 0 1 436.4 438.0 Z" fill="#ff0000"/>
<circle cx="443.4" cy="433.5" r="3.65" fill="#fff" stroke="#ff0000" stroke-width="1"/><path d="M439.2 433.5 A4.15 4.15 0 0 1 447.5 433.5 Z" fill="#ff0000"/>
<circle cx="454.1" cy="427.1" r="3.65" fill="#fff" stroke="#ffff00" stroke-width="1"/><path d="M450.0 427.1 A4.15 4.15 0 0 1 458.2 427.1 Z" fill="#ffff00"/>
<circle cx="464.6" cy="426.0" r="3.65" fill="#fff" stroke="#ffff00" stroke-width="1"/><path d="M460.5 426.0 A4.15 4.15 0 0 1 468.8 426.0 Z" fill="#ffff00"/>
<circle cx="475.7" cy="419.1" r="3.65" fill="#fff" stroke="#ffff00" stroke-width="1"/><path d="M471.6 419.1 A4.15 4.15 0 0 1 479.8 419.1 Z" fill="#ffff00"/>
<circle cx="486.6" cy="413.1" r="3.65" fill="#fff" stroke="#ffff00" stroke-width="1"/><path d="M482.5 413.1 A4.15 4.15 0 0 1 490.8 413.1 Z" fill="#ffff00"/>
<circle cx="497.5" cy="407.3" r="3.65" fill="#fff" stroke="#ffff00" stroke-width="1"/><path d="M493.4 407.3 A4.15 4.15 0 0 1 501.6 407.3 Z" fill="#ffff00"/>
<circle cx="508.0" cy="400.0" r="3.65" fill="#fff" stroke="#ffff00" stroke-width="1"/><path d="M503.9 400.0 A4.15 4.15 0 0 1 512.1 400.0 Z" fill="#ffff00"/>
<circle cx="518.8" cy="393.0" r="3.65" fill="#fff" stroke="#ffff00" stroke-width="1"/><path d="M514.6 393.0 A4.15 4.15 0 0 1 522.9 393.0 Z" fill="#ffff00"/>
<circle cx="529.7" cy="385.1" r="3.65" fill="#fff" stroke="#ffff00" stroke-width="1"/><path d="M525.6 385.1 A4.15 4.15 0 0 1 533.9 385.1 Z" fill="#ffff00"/>
<circle cx="540.7" cy="375.8" r="3.65" fill="#fff" stroke="#ffff00" stroke-width="1"/><path d="M536.6 375.8 A4.15 4.15 0 0 1 544.9 375.8 Z" fill="#ffff00"/>
<circle cx="551.6" cy="366.1" r="3.65" fill="#fff" stroke="#80ff00" stroke-width="1"/><path d="M547.5 366.1 A4.15 4.15 0 0 1 555.8 366.1 Z" fill="#80ff00"/>
<circle cx="562.2" cy="344.5" r="3.65" fill="#fff" stroke="#80ff00" stroke-width="1"/><path d="M558.1 344.5 A4.15 4.15 0 0 1 566.4 344.5 Z" fill="#80ff00"/>
<circle cx="573.2" cy="312.7" r="3.65" fill="#fff" stroke="#80ff00" stroke-width="1"/><path d="M569.1 312.7 A4.15 4.15 0 0 1 577.4 312.7 Z" fill="#80ff00"/>
<circle cx="584.2" cy="279.6" r="3.65" fill="#fff" stroke="#00ff00" stroke-width="1"/><path d="M580.1 279.6 A4.15 4.15 0 0 1 588.4 279.6 Z" fill="#00ff00"/>
<circle cx="595.0" cy="245.8" r="3.65" fill="#fff" stroke="#00ff00" stroke-width="1"/><path d="M590.9 245.8 A4.15 4.15 0 0 1 599.1 245.8 Z" fill="#00ff00"/>
<circle cx="605.3" cy="216.9" r="3.65" fill="#fff" stroke="#00ffff" stroke-width="1"/><path d="M601.1 216.9 A4.15 4.15 0 0 1 609.4 216.9 Z" fill="#00ffff"/>
</g>
</g>
<!-- dashed stage lines -->
<g stroke="#808080" stroke-width="2.3" fill="none">
<line x1="69.1" y1="481.4" x2="213.5" y2="323.3" stroke-dasharray="12.5 12.55"/>
<line x1="339.9" y1="360.5" x2="513.4" y2="486.6" stroke-dasharray="12.8 12.2"/>
</g>
<!-- axes -->
<g stroke="#000" stroke-width="2.2" fill="none">
<line x1="64.3" y1="2.1999999999999997" x2="64.3" y2="498.6"/>
<line x1="54.0" y1="498.6" x2="679.3000000000001" y2="498.6"/>
<line x1="678.2" y1="2.1999999999999997" x2="678.2" y2="498.6"/>
<line x1="59.3" y1="3.3" x2="679.3000000000001" y2="3.3"/>
<line x1="64.3" y1="498.6" x2="64.3" y2="507.8"/>
<line x1="115.5" y1="498.6" x2="115.5" y2="503.6"/>
<line x1="166.6" y1="498.6" x2="166.6" y2="507.8"/>
<line x1="217.8" y1="498.6" x2="217.8" y2="503.6"/>
<line x1="268.9" y1="498.6" x2="268.9" y2="507.8"/>
<line x1="320.1" y1="498.6" x2="320.1" y2="503.6"/>
<line x1="371.3" y1="498.6" x2="371.3" y2="507.8"/>
<line x1="422.4" y1="498.6" x2="422.4" y2="503.6"/>
<line x1="473.6" y1="498.6" x2="473.6" y2="507.8"/>
<line x1="524.7" y1="498.6" x2="524.7" y2="503.6"/>
<line x1="575.9" y1="498.6" x2="575.9" y2="507.8"/>
<line x1="627.0" y1="498.6" x2="627.0" y2="503.6"/>
<line x1="678.2" y1="498.6" x2="678.2" y2="507.8"/>
<line x1="64.3" y1="498.6" x2="54.0" y2="498.6"/>
<line x1="64.3" y1="465.6" x2="58.8" y2="465.6"/>
<line x1="64.3" y1="432.6" x2="54.0" y2="432.6"/>
<line x1="64.3" y1="399.5" x2="58.8" y2="399.5"/>
<line x1="64.3" y1="366.5" x2="54.0" y2="366.5"/>
<line x1="64.3" y1="333.5" x2="58.8" y2="333.5"/>
<line x1="64.3" y1="300.5" x2="54.0" y2="300.5"/>
<line x1="64.3" y1="267.5" x2="58.8" y2="267.5"/>
<line x1="64.3" y1="234.4" x2="54.0" y2="234.4"/>
<line x1="64.3" y1="201.4" x2="58.8" y2="201.4"/>
<line x1="64.3" y1="168.4" x2="54.0" y2="168.4"/>
<line x1="64.3" y1="135.4" x2="58.8" y2="135.4"/>
<line x1="64.3" y1="102.4" x2="54.0" y2="102.4"/>
<line x1="64.3" y1="69.3" x2="58.8" y2="69.3"/>
<line x1="64.3" y1="36.3" x2="54.0" y2="36.3"/>
<line x1="64.3" y1="3.3" x2="58.8" y2="3.3"/>
</g>
<g font-size="22.6">
<text x="64.3" y="531.6" text-anchor="middle">0</text><text x="166.6" y="531.6" text-anchor="middle">1</text><text x="268.9" y="531.6" text-anchor="middle">2</text><text x="371.3" y="531.6" text-anchor="middle">3</text><text x="473.6" y="531.6" text-anchor="middle">4</text><text x="575.9" y="531.6" text-anchor="middle">5</text><text x="678.2" y="531.6" text-anchor="middle">6</text>
<text x="47.7" y="505.3" text-anchor="end">0</text><text x="47.7" y="439.3" text-anchor="end">1</text><text x="47.7" y="373.2" text-anchor="end">2</text><text x="47.7" y="307.2" text-anchor="end">3</text><text x="47.7" y="241.1" text-anchor="end">4</text><text x="47.7" y="175.1" text-anchor="end">5</text><text x="47.7" y="109.1" text-anchor="end">6</text><text x="47.7" y="43.0" text-anchor="end">7</text>
</g>
<!-- colorbar -->
<g>
<rect x="147.4" y="230.73" width="37.0" height="31.47" fill="#ff0000"/><rect x="147.4" y="199.56" width="37.0" height="31.47" fill="#ffff00"/><rect x="147.4" y="168.39" width="37.0" height="31.47" fill="#80ff00"/><rect x="147.4" y="137.21" width="37.0" height="31.47" fill="#00ff00"/><rect x="147.4" y="106.04" width="37.0" height="31.47" fill="#00ffff"/><rect x="147.4" y="74.87" width="37.0" height="31.47" fill="#0080ff"/><rect x="147.4" y="43.70" width="37.0" height="31.47" fill="#0000ff"/><line x1="147.4" y1="43.7" x2="147.4" y2="262.7" stroke="#404040" stroke-width="1"/><line x1="184.4" y1="43.7" x2="184.4" y2="262.7" stroke="#202020" stroke-width="1.2"/><line x1="146.9" y1="262.2" x2="185.0" y2="262.2" stroke="#000" stroke-width="1.6"/><line x1="184.4" y1="261.9" x2="192.9" y2="261.9" stroke="#000" stroke-width="1.4"/><text transform="translate(199.3,267.2) scale(0.985,1)" font-size="14.2">0.000</text><line x1="184.4" y1="230.7" x2="192.9" y2="230.7" stroke="#000" stroke-width="1.4"/><text transform="translate(199.3,236.0) scale(0.985,1)" font-size="14.2">1.000</text><line x1="184.4" y1="199.6" x2="192.9" y2="199.6" stroke="#000" stroke-width="1.4"/><text transform="translate(199.3,204.9) scale(0.985,1)" font-size="14.2">2.000</text><line x1="184.4" y1="168.4" x2="192.9" y2="168.4" stroke="#000" stroke-width="1.4"/><text transform="translate(199.3,173.7) scale(0.985,1)" font-size="14.2">3.000</text><line x1="184.4" y1="137.2" x2="192.9" y2="137.2" stroke="#000" stroke-width="1.4"/><text transform="translate(199.3,142.5) scale(0.985,1)" font-size="14.2">4.000</text><line x1="184.4" y1="106.0" x2="192.9" y2="106.0" stroke="#000" stroke-width="1.4"/><text transform="translate(199.3,111.3) scale(0.985,1)" font-size="14.2">5.000</text><line x1="184.4" y1="74.9" x2="192.9" y2="74.9" stroke="#000" stroke-width="1.4"/><text transform="translate(199.3,80.2) scale(0.985,1)" font-size="14.2">6.000</text><line x1="184.4" y1="44.0" x2="190.4" y2="44.0" stroke="#b0b0b0" stroke-width="0.8"/><line x1="190.4" y1="43.9" x2="193.1" y2="43.9" stroke="#000" stroke-width="1.1"/><text transform="translate(199.3,49.0) scale(0.985,1)" font-size="14.2">7.000</text>
</g>
<!-- arrows -->
<line x1="522.1" y1="260.8" x2="499.4" y2="221.4" stroke="#ed7d31" stroke-width="2"/><path d="M495.5 214.6 L503.8 220.0 L496.0 224.5 Z" fill="#ed7d31"/>
<line x1="526.0" y1="336.4" x2="452.8" y2="296.3" stroke="#ed7d31" stroke-width="2"/><path d="M446.0 292.6 L455.9 292.9 L451.6 300.8 Z" fill="#ed7d31"/>
<line x1="596.2" y1="191.8" x2="575.8" y2="145.6" stroke="#ed7d31" stroke-width="2"/><path d="M572.6 138.5 L580.3 144.7 L572.0 148.4 Z" fill="#ed7d31"/>
<line x1="581.4" y1="307.5" x2="619.1" y2="347.1" stroke="#ed7d31" stroke-width="2"/><path d="M624.5 352.7 L615.2 349.4 L621.7 343.2 Z" fill="#ed7d31"/>
<!-- labels -->
<g font-size="24.6">
<text transform="translate(79.0,353.3) scale(1.047,1)">stage I</text>
<text transform="translate(253.0,396.2) scale(1.045,1)">stage II</text>
<text transform="translate(535.5,419.4) scale(1.033,1)">stage III</text>
<text transform="translate(399.4,197.6) scale(0.99,1)">Without bolt</text>
<text transform="translate(519.8,121.3) scale(0.97,1)">Triple-row</text>
<text transform="translate(328.0,287.8) scale(0.98,1)">Double-row</text>
<text transform="translate(565.0,374.2) scale(0.98,1)">Single-row</text>
</g>
<!-- axis titles -->
<g transform="translate(21.6,273.2) rotate(-90)">
<text transform="translate(0.2,0) skewX(-9)" font-size="29" font-style="italic">ε</text>
<text x="11.3" y="6.3" font-size="15.5">3</text>
<text x="18.2" y="0" font-size="29">/</text>
<text transform="translate(26.3,0) skewX(-9)" font-size="29" font-style="italic">ε</text>
<text x="38.0" y="6.3" font-size="15.5">1</text>
</g>
<g>
<text transform="translate(329.6,560.6) skewX(-9) scale(1.06,1)" font-size="29" font-style="italic">ε</text>
<text x="340.2" y="567.5" font-size="16">1</text>
<text x="347.4" y="560.6" font-size="29">/</text>
<text x="357.6" y="560.6" font-size="25.5">10</text>
<text x="382.2" y="551.4" font-size="18.5" transform="translate(382.2,0) scale(0.95,1) translate(-382.2,0)">−3</text>
</g>
</svg>
</body></html>
